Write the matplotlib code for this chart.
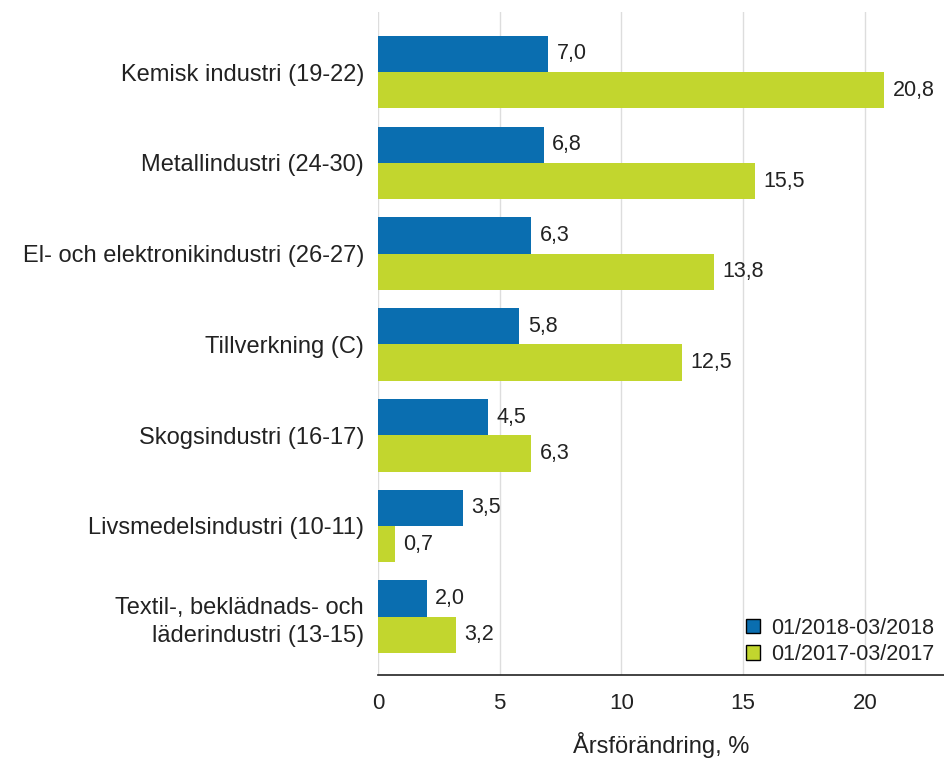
import matplotlib
matplotlib.use("Agg")
import matplotlib.pyplot as plt
import numpy as np

plt.rcParams["font.family"] = ["Liberation Sans", "DejaVu Sans"]

categories = [
    "Kemisk industri (19-22)",
    "Metallindustri (24-30)",
    "El- och elektronikindustri (26-27)",
    "Tillverkning (C)",
    "Skogsindustri (16-17)",
    "Livsmedelsindustri (10-11)",
    "Textil-, beklädnads- och\nläderindustri (13-15)",
]
series_2018 = [7.0, 6.8, 6.3, 5.8, 4.5, 3.5, 2.0]
series_2017 = [20.8, 15.5, 13.8, 12.5, 6.3, 0.7, 3.2]
labels = ["01/2018-03/2018", "01/2017-03/2017"]
colors = ["#0a6eb0", "#c2d62e"]

fig = plt.figure(figsize=(9.44, 7.6), dpi=100)
ax = fig.add_axes([0.4004, 0.112, 0.5996, 0.872])

y = np.arange(len(categories))
h = 0.4
b1 = ax.barh(y - h / 2, series_2018, h, color=colors[0], label=labels[0], zorder=3)
b2 = ax.barh(y + h / 2, series_2017, h, color=colors[1], label=labels[1], zorder=3)

# value labels at bar ends, decimal comma
for bars, vals in ((b1, series_2018), (b2, series_2017)):
    for bar, v in zip(bars, vals):
        ax.text(v + 0.35, bar.get_y() + bar.get_height() / 2,
                f"{v:.1f}".replace(".", ","), va="center", ha="left",
                fontsize=15.5, color="#222222")

ax.set_yticks(y)
ax.set_yticklabels(categories, fontsize=17, ha="right", linespacing=1.35,
                   color="#222222")
ax.set_ylim(6.64, -0.66)
ax.set_xlim(0, 23.25)
ax.set_xticks([0, 5, 10, 15, 20])
ax.tick_params(axis="x", labelsize=16, length=0, pad=13, labelcolor="#222222")
ax.tick_params(axis="y", length=0, pad=10)
ax.grid(axis="x", color="#dddddd", linewidth=1, zorder=0)
for s in ("top", "right", "left"):
    ax.spines[s].set_visible(False)
ax.spines["bottom"].set_color("#222222")
ax.spines["bottom"].set_linewidth(1.2)
ax.set_xlabel("Årsförändring, %", fontsize=17, labelpad=13, color="#222222")

handles = [plt.Rectangle((0, 0), 1, 1, facecolor=c, edgecolor="black", linewidth=1)
           for c in colors]
ax.legend(handles, labels, loc="lower right", frameon=False, fontsize=15.5,
          handlelength=0.65, handleheight=0.65, handletextpad=0.5,
          labelspacing=0.25, borderaxespad=0.05, bbox_to_anchor=(1.0, 0.0),
          labelcolor="#222222")

fig.savefig("out.png", dpi=100)
